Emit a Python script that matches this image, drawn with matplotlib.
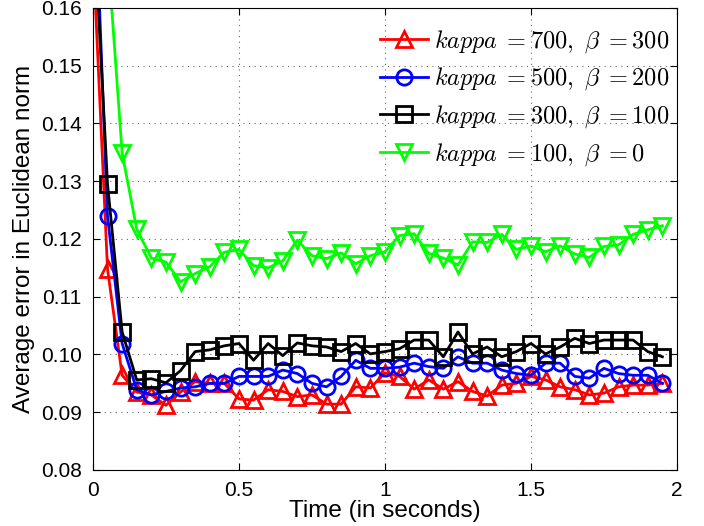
import numpy as np
import matplotlib
matplotlib.use("Agg")
import matplotlib.pyplot as plt

# time axis, samples every 0.05 s
t = np.arange(0, 40) * 0.05

err_k700 = [0.170, 0.1148, 0.0964, 0.0935, 0.0930, 0.0912, 0.0935, 0.0953, 0.0950, 0.0950,
            0.0923, 0.0921, 0.0939, 0.0936, 0.0927, 0.0930, 0.0914, 0.0914, 0.0944, 0.0942,
            0.0968, 0.0962, 0.0940, 0.0956, 0.0940, 0.0953, 0.0936, 0.0928, 0.0947, 0.0950,
            0.0962, 0.0956, 0.0944, 0.0939, 0.0930, 0.0933, 0.0944, 0.0947, 0.0947, 0.0950]
err_k500 = [0.190, 0.1239, 0.1019, 0.0939, 0.0930, 0.0936, 0.0942, 0.0944, 0.0950, 0.0950,
            0.0962, 0.0962, 0.0962, 0.0973, 0.0967, 0.0950, 0.0944, 0.0962, 0.0990, 0.0976,
            0.0976, 0.0978, 0.0985, 0.0979, 0.0976, 0.0996, 0.0985, 0.0985, 0.0973, 0.0967,
            0.0964, 0.0985, 0.0985, 0.0962, 0.0959, 0.0976, 0.0967, 0.0964, 0.0964, 0.0950]
err_k300 = [0.178, 0.1295, 0.1039, 0.0956, 0.0958, 0.0951, 0.0972, 0.1005, 0.1008, 0.1015,
            0.1019, 0.0990, 0.1019, 0.0998, 0.1020, 0.1015, 0.1013, 0.1005, 0.1019, 0.1001,
            0.1005, 0.1010, 0.1025, 0.1025, 0.0996, 0.1039, 0.1001, 0.1013, 0.0996, 0.1005,
            0.1019, 0.1001, 0.1013, 0.1028, 0.1019, 0.1025, 0.1025, 0.1025, 0.1005, 0.0996]
err_k100 = [0.210, 0.1700, 0.1349, 0.1217, 0.1167, 0.1160, 0.1126, 0.1140, 0.1152, 0.1177,
            0.1182, 0.1154, 0.1150, 0.1162, 0.1198, 0.1171, 0.1166, 0.1176, 0.1157, 0.1171,
            0.1178, 0.1206, 0.1209, 0.1175, 0.1167, 0.1155, 0.1195, 0.1194, 0.1208, 0.1182,
            0.1188, 0.1178, 0.1188, 0.1174, 0.1168, 0.1187, 0.1190, 0.1208, 0.1216, 0.1223]

labels = [r'$kappa\;{=}700,\ \beta\;{=}300$',
          r'$kappa\;{=}500,\ \beta\;{=}200$',
          r'$kappa\;{=}300,\ \beta\;{=}100$',
          r'$kappa\;{=}100,\ \beta\;{=}0$']

plt.rcParams['font.family'] = ['Liberation Sans', 'DejaVu Sans']
plt.rcParams['mathtext.fontset'] = 'cm'

fig = plt.figure(figsize=(7.04, 5.26), dpi=100)
ax = fig.add_axes([0.132, 0.1065, 0.8296, 0.8783])

style = dict(linewidth=2, markersize=11, markeredgewidth=2, markerfacecolor='none')
ax.plot(t, err_k700, '-^', color='red', label=labels[0], **style)
ax.plot(t, err_k500, '-o', color='blue', label=labels[1], **style)
ax.plot(t, err_k300, '-s', color='black', label=labels[2], **style)
ax.plot(t, err_k100, '-v', color='#00ff00', label=labels[3], **style)

ax.set_xlim(0, 2)
ax.set_ylim(0.08, 0.16)
ax.set_xticks([0, 0.5, 1, 1.5, 2])
ax.set_xticklabels(['0', '0.5', '1', '1.5', '2'])
ax.set_yticks(np.arange(0.08, 0.1601, 0.01))
ax.set_yticklabels(['%.2f' % v for v in np.arange(0.08, 0.1601, 0.01)])
ax.tick_params(direction='in', top=True, right=True, labelsize=15, length=5, pad=8)
ax.grid(True, linestyle=(0, (1, 4)), color='black', linewidth=0.8, alpha=0.6)

ax.set_xlabel('Time (in seconds)', fontsize=17.5, labelpad=0)
ax.set_ylabel('Average error in Euclidean norm', fontsize=17.5, labelpad=4)

ax.legend(loc='upper right', bbox_to_anchor=(1.008, 0.983), frameon=False,
          fontsize=17.5, handlelength=2.0, borderaxespad=0.1, labelspacing=0.45,
          handletextpad=0.25)

fig.savefig('out.png', dpi=100)
